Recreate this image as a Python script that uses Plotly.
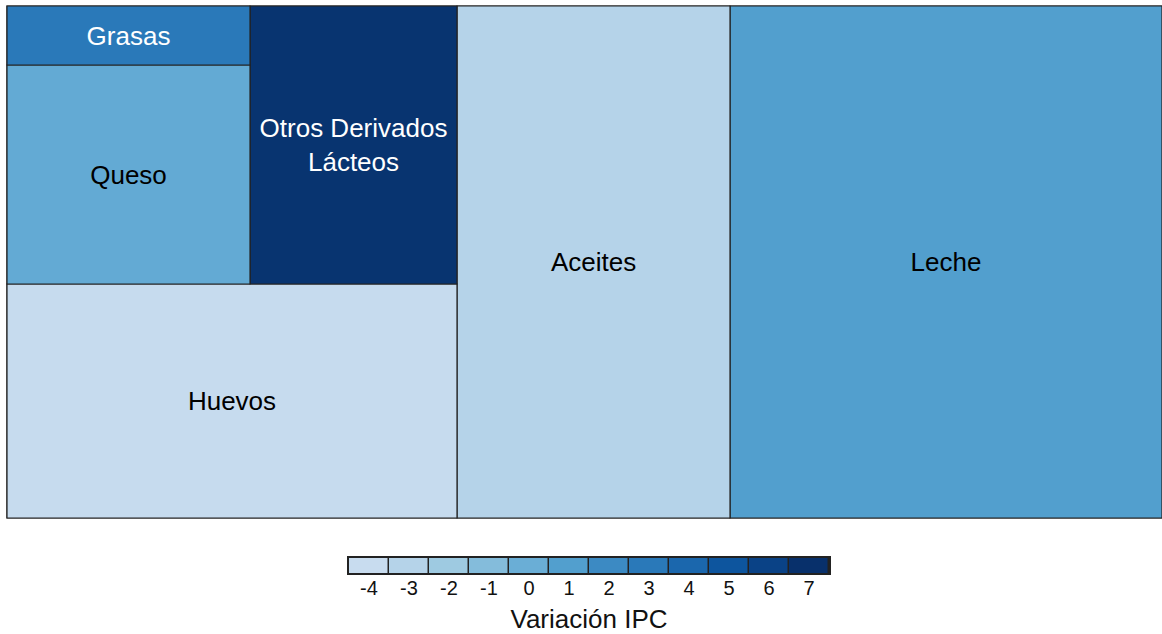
import plotly.graph_objects as go

# Data
categories = ["Leche", "Aceites", "Huevos", "Otros Derivados<br>Lácteos", "Queso", "Grasas"]
weights = [221184, 139776, 105300, 57546, 53217, 14337]
ipc_var = [1.0, -3.0, -3.9, 6.8, 0.3, 3.0]
legend_ticks = [-4, -3, -2, -1, 0, 1, 2, 3, 4, 5, 6, 7]
legend_colors = ["#c8dcef", "#b5d3e9", "#9ecae1", "#84bcdb", "#6aaed6", "#529fce",
                 "#3c8ac3", "#2a79b9", "#1b67ad", "#0d559e", "#0a4286", "#08306b"]

cmin, cmax = legend_ticks[0], legend_ticks[-1]
colorscale = [[(t - cmin) / (cmax - cmin), c] for t, c in zip(legend_ticks, legend_colors)]

text_colors = ["white" if v >= 2.5 else "black" for v in ipc_var]

W, H = 1162, 634

fig = go.Figure()
fig.add_trace(go.Treemap(
    labels=categories,
    parents=[""] * len(categories),
    values=weights,
    marker=dict(colors=ipc_var, coloraxis="coloraxis",
                line=dict(color="#222222", width=1.2),
                pad=dict(t=0, l=0, r=0, b=0)),
    tiling=dict(packing="squarify", squarifyratio=1, flip="x+y", pad=0),
    textinfo="label",
    textposition="middle center",
    textfont=dict(family="Liberation Sans, Arial", size=26, color=text_colors),
    pathbar=dict(visible=False),
    sort=True,
    domain=dict(x=[7 / W, 1.0], y=[1 - 518 / H, 1 - 6 / H]),
    hoverinfo="label+value",
))

fig.add_trace(go.Heatmap(
    x=legend_ticks,
    y=[0],
    z=[legend_ticks],
    coloraxis="coloraxis",
    xgap=1.5,
    hoverinfo="skip",
))

fig.update_layout(
    width=W, height=H,
    margin=dict(l=0, r=0, t=0, b=0),
    paper_bgcolor="white",
    plot_bgcolor="#222222",
    font=dict(family="Liberation Sans, Arial", color="#111111"),
    coloraxis=dict(colorscale=colorscale, cmin=cmin, cmax=cmax, showscale=False),
    xaxis=dict(domain=[349 / W, 829 / W], tickvals=legend_ticks,
               ticktext=[str(t) for t in legend_ticks], ticks="", showgrid=False,
               zeroline=False, showline=True, linecolor="#222222", linewidth=1.5, mirror=True,
               tickfont=dict(size=20, color="#111111"), ticklabelstandoff=-4,
               title=dict(text="Variación IPC", font=dict(size=26, color="#111111"), standoff=14),
               fixedrange=True),
    yaxis=dict(domain=[1 - 573 / H, 1 - 558 / H], showticklabels=False, ticks="",
               showgrid=False, zeroline=False, showline=True, linecolor="#222222",
               linewidth=1.5, mirror=True, fixedrange=True),
)

fig.write_html("out.html", config={"displayModeBar": False},
               post_script="document.body.style.margin='0px';document.body.style.overflow='hidden';")
